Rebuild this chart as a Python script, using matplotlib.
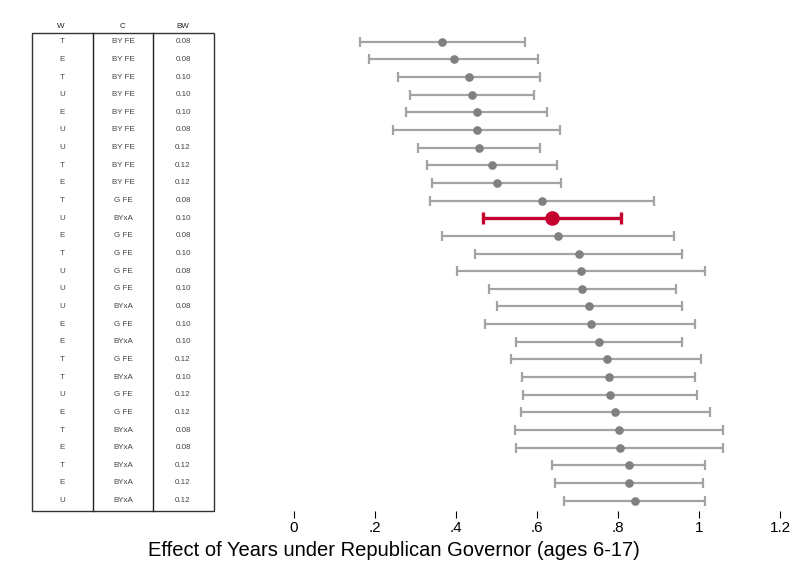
import matplotlib.pyplot as plt
from matplotlib.patches import Rectangle

plt.rcParams['font.family'] = ['Liberation Sans', 'DejaVu Sans']

# specification table, top to bottom
weights = ['T', 'E', 'T', 'U', 'E', 'U', 'U', 'T', 'E', 'T', 'U', 'E', 'T', 'U',
           'U', 'U', 'E', 'E', 'T', 'T', 'U', 'E', 'T', 'E', 'T', 'E', 'U']
controls = ['BY FE', 'BY FE', 'BY FE', 'BY FE', 'BY FE', 'BY FE', 'BY FE', 'BY FE',
            'BY FE', 'G FE', 'BYxA', 'G FE', 'G FE', 'G FE', 'G FE', 'BYxA', 'G FE',
            'BYxA', 'G FE', 'BYxA', 'G FE', 'G FE', 'BYxA', 'BYxA', 'BYxA', 'BYxA',
            'BYxA']
bandwidths = ['0.08', '0.08', '0.10', '0.10', '0.10', '0.08', '0.12', '0.12', '0.12',
              '0.08', '0.10', '0.08', '0.10', '0.08', '0.10', '0.08', '0.10', '0.10',
              '0.12', '0.10', '0.12', '0.12', '0.08', '0.08', '0.12', '0.12', '0.12']

estimates = [0.366, 0.394, 0.431, 0.440, 0.451, 0.451, 0.458, 0.489, 0.500, 0.612,
             0.636, 0.653, 0.704, 0.709, 0.712, 0.729, 0.733, 0.754, 0.772, 0.777,
             0.781, 0.793, 0.803, 0.805, 0.827, 0.828, 0.841]
ci_low = [0.164, 0.186, 0.256, 0.286, 0.276, 0.245, 0.305, 0.328, 0.341, 0.336,
          0.467, 0.366, 0.448, 0.403, 0.482, 0.500, 0.472, 0.548, 0.537, 0.564,
          0.566, 0.560, 0.545, 0.548, 0.637, 0.645, 0.667]
ci_high = [0.570, 0.603, 0.607, 0.593, 0.625, 0.657, 0.608, 0.650, 0.659, 0.889,
           0.807, 0.939, 0.959, 1.015, 0.942, 0.959, 0.991, 0.959, 1.005, 0.991,
           0.995, 1.026, 1.060, 1.060, 1.016, 1.011, 1.016]

preferred = 10  # U / BYxA / 0.10

xticks = [0, 0.2, 0.4, 0.6, 0.8, 1.0, 1.2]
xticklabels = ['0', '.2', '.4', '.6', '.8', '1', '1.2']

W, H = 794, 582
fig = plt.figure(figsize=(W / 100, H / 100), dpi=100)

n = len(estimates)
row0, step = 41.7, 17.65
top_px, bot_px = 33, 511
ylim = ((bot_px - row0) / step, (top_px - row0) / step)


def px_axes(x0, x1):
    return fig.add_axes([x0 / W, 1 - bot_px / H, (x1 - x0) / W, (bot_px - top_px) / H])


# coefficient plot
ax = px_axes(294, 780)
for i in range(n):
    if i == preferred:
        continue
    ax.errorbar(estimates[i], i, xerr=[[estimates[i] - ci_low[i]], [ci_high[i] - estimates[i]]],
                fmt='o', color='#808080', ecolor='#a3a3a3', elinewidth=1.6,
                capsize=3.6, capthick=1.6, markersize=5.2, zorder=2)
i = preferred
ax.errorbar(estimates[i], i, xerr=[[estimates[i] - ci_low[i]], [ci_high[i] - estimates[i]]],
            fmt='o', color='#c4002f', ecolor='#c4002f', elinewidth=2.4,
            capsize=4.3, capthick=2.4, markersize=9.5, zorder=3)

ax.set_xlim(0, 1.2)
ax.set_ylim(*ylim)
ax.set_xticks(xticks)
ax.set_xticklabels(xticklabels, fontsize=11)
ax.set_yticks([])
for side in ['top', 'right', 'left', 'bottom']:
    ax.spines[side].set_visible(False)
ax.tick_params(axis='x', direction='out', length=5, width=0.8, pad=2, color='black')

fig.text(394 / W, 1 - 551 / H, 'Effect of Years under Republican Governor (ages 6-17)',
         ha='center', va='center', fontsize=14.5)

# specification table
tab = px_axes(32, 214)
tab.set_xlim(32, 214)
tab.set_ylim(*ylim)
tab.axis('off')
tab.add_patch(Rectangle((32, ylim[1]), 182, ylim[0] - ylim[1], fill=False,
                        edgecolor='#333333', linewidth=1.0, clip_on=False))
for xd in [93, 153]:
    tab.plot([xd, xd], list(ylim), color='#222222', linewidth=1.0, clip_on=False)

header_y = (26.7 - row0) / step
for xc, name in zip([61, 122, 183], ['W', 'C', 'BW']):
    tab.text(xc, header_y, name, ha='center', va='center', fontsize=5.8,
             color='#222222', clip_on=False)
for i in range(n):
    tab.text(62, i, weights[i], ha='center', va='center', fontsize=5.8, color='#444444')
    tab.text(123, i, controls[i], ha='center', va='center', fontsize=5.8, color='#444444')
    tab.text(183, i, bandwidths[i], ha='center', va='center', fontsize=5.8, color='#444444')

plt.savefig('out.png', dpi=100)
